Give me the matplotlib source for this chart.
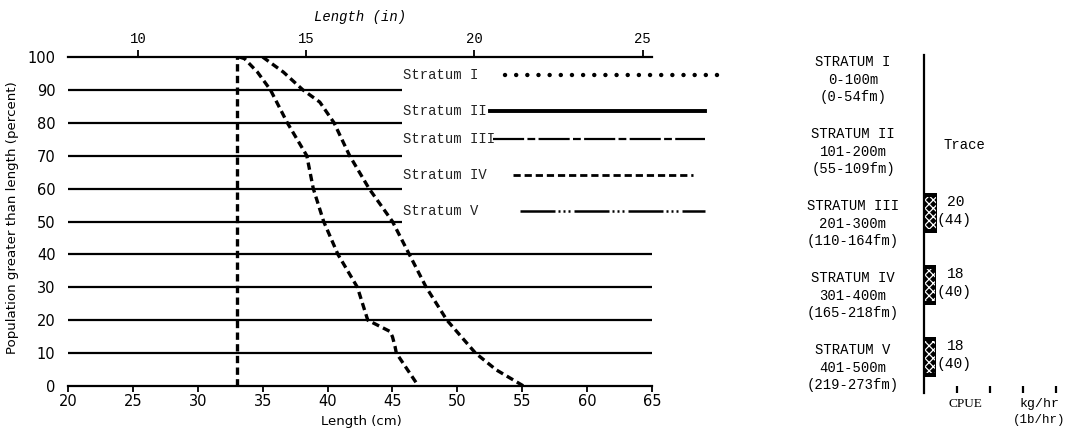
import matplotlib
matplotlib.use("Agg")
import matplotlib.pyplot as plt
from matplotlib.lines import Line2D
import matplotlib.transforms as mtransforms

# ---------------- data ----------------
x_ticks_cm = [20, 25, 30, 35, 40, 45, 50, 55, 60, 65]
y_ticks_pct = [0, 10, 20, 30, 40, 50, 60, 70, 80, 90, 100]
top_ticks_in = [10, 15, 20, 25]

grid_short_pct = [50, 60, 70, 80, 90]
grid_long_pct = [10, 20, 30, 40]

vert_cm = [33.0, 33.0]
vert_pct = [0, 100]

curve_a_cm = [33.2, 33.6, 34.6, 35.6, 36.9, 38.4, 38.9, 39.7, 40.8, 42.3, 43.1, 43.8, 44.8, 45.0, 45.2, 45.3, 47.0]
curve_a_pct = [100, 99.5, 95.4, 90, 80, 70, 60, 50, 40, 30, 20, 18.6, 16.6, 15, 12, 10, 0]

curve_b_cm = [35.0, 36.6, 38.1, 39.4, 40.5, 41.7, 43.2, 45.0, 46.3, 47.6, 49.2, 51.4, 53.0, 55.1]
curve_b_pct = [100, 95.4, 90, 86.3, 80, 70, 60, 50, 40, 30, 20, 10, 4.9, 0]

legend_labels = ["Stratum I", "Stratum II", "Stratum III", "Stratum IV", "Stratum V"]

strata_names = ["STRATUM I", "STRATUM II", "STRATUM III", "STRATUM IV", "STRATUM V"]
strata_m = ["0-100m", "101-200m", "201-300m", "301-400m", "401-500m"]
strata_fm = ["(0-54fm)", "(55-109fm)", "(110-164fm)", "(165-218fm)", "(219-273fm)"]
cpue_kg = [0, 0, 20, 18, 18]
cpue_lb = [0, 0, 44, 40, 40]
cpue_note = ["", "Trace", "", "", ""]
cpue_ticks = [50, 100, 150, 200]

# ---------------- figure ----------------
W, H = 1069, 434
fig = plt.figure(figsize=(W / 100, H / 100), dpi=100)


def fx(px):
    return px / W


def fy(py):
    return 1 - py / H


MONO = "Liberation Mono"
SANS = "DejaVu Sans"

ax = fig.add_axes([fx(68), fy(386), (652 - 68) / W, (386 - 57) / H])
ax.set_xlim(20, 65)
ax.set_ylim(0, 100)

ax.hlines(grid_short_pct, 20, 45.7, color="black", lw=1.6, zorder=1)
ax.hlines(grid_long_pct, 20, 65, color="black", lw=1.6, zorder=1)

dash = (0, (2.2, 1.3))
ax.plot(vert_cm, vert_pct, color="black", lw=2.4, linestyle=dash, zorder=3)
ax.plot(curve_a_cm, curve_a_pct, color="black", lw=2.4, linestyle=dash, zorder=3)
ax.plot(curve_b_cm, curve_b_pct, color="black", lw=2.4, linestyle=dash, zorder=3)

for s in ["left", "right", "top"]:
    ax.spines[s].set_visible(False)
ax.spines["bottom"].set_linewidth(1.6)

ax.set_xticks(x_ticks_cm)
ax.set_yticks(y_ticks_pct)
ax.tick_params(axis="x", direction="out", length=4, width=1.3, pad=2, labelsize=10.5)
ax.tick_params(axis="y", length=0, pad=9, labelsize=10.5)
for lab in ax.get_xticklabels() + ax.get_yticklabels():
    lab.set_family(SANS)

# top inch axis (scale as printed on the original)
def cm2in(c):
    return 10 + (c - 25.4) / 2.592


def in2cm(i):
    return 25.4 + (i - 10) * 2.592


secax = ax.secondary_xaxis("top", functions=(cm2in, in2cm))
secax.set_xticks(top_ticks_in)
secax.tick_params(direction="out", length=5, width=1.3, pad=3, labelsize=10)
for lab in secax.get_xticklabels():
    lab.set_family(MONO)
secax.spines["top"].set_linewidth(1.6)

fig.text(fx(360), fy(17), "Length (in)", family=MONO, style="italic", size=10,
         ha="center", va="center")
fig.text(fx(361), fy(422), "Length (cm)", family=SANS, size=9.5, ha="center", va="center")
fig.text(fx(13), fy(218), "Population greater than length (percent)", family=SANS,
         size=9.6, rotation=90, ha="center", va="center")

# ---------------- legend ----------------
leg_y = [75, 111, 139, 175, 211]
leg_x0 = [505, 490, 493, 513, 520]
leg_x1 = [728, 705, 705, 693, 705]
leg_styles = [
    dict(lw=3.2, linestyle=(0, (0.01, 2.5)), dash_capstyle="round"),
    dict(lw=2.8, linestyle="-"),
    dict(lw=1.6, linestyle=(0, (14, 1.5, 3.5, 1.5))),
    dict(lw=2.0, linestyle=(0, (2.6, 1.4))),
    dict(lw=1.8, linestyle=(0, (14, 1.2, 0.8, 1.2, 0.8, 1.2, 0.8, 1.6))),
]
for lab, y, x0, x1, st in zip(legend_labels, leg_y, leg_x0, leg_x1, leg_styles):
    fig.text(fx(403), fy(y), lab, family=MONO, size=10, color="#222222",
             ha="left", va="center")
    fig.add_artist(Line2D([fx(x0), fx(x1)], [fy(y), fy(y)], transform=fig.transFigure,
                          color="black", **st))

# ---------------- right panel ----------------
ax2 = fig.add_axes([fx(924), fy(393), (W - 924) / W, (393 - 55) / H])
ax2.set_xlim(0, 220)
ax2.set_ylim(4.347, -0.347)
for s in ["right", "top", "bottom"]:
    ax2.spines[s].set_visible(False)
ax2.spines["left"].set_linewidth(1.6)
ax2.set_yticks([])
ax2.set_xticks(cpue_ticks)
ax2.tick_params(axis="x", direction="in", length=5, width=1.6, labelbottom=False)

rows = list(range(len(strata_names)))
bar_rows = [r - 0.15 for r in rows]
ax2.barh(bar_rows, cpue_kg, height=0.55, color="black", lw=0)
plt.rcParams["hatch.linewidth"] = 0.9
ax2.barh(bar_rows, [max(v - 3, 0) for v in cpue_kg], left=1.5, height=0.45,
         fill=False, hatch="xxxx", edgecolor="white", lw=0)

tr = mtransforms.blended_transform_factory(fig.transFigure, ax2.transData)
for r, n, m, f in zip(rows, strata_names, strata_m, strata_fm):
    ax2.text(fx(853), r - 0.245, n, transform=tr, family=MONO, size=10,
             ha="center", va="center", clip_on=False)
    ax2.text(fx(853), r, m, transform=tr, family=MONO, size=10,
             ha="center", va="center", clip_on=False)
    ax2.text(fx(853), r + 0.24, f, transform=tr, family=MONO, size=10,
             ha="center", va="center", clip_on=False)

for r, kg, lb, note in zip(rows, cpue_kg, cpue_lb, cpue_note):
    if kg > 0:
        ax2.text(35, r - 0.31, f"{kg}", family=MONO, size=10.5, ha="left", va="center")
        ax2.text(19, r - 0.05, f"({lb})", family=MONO, size=10.5, ha="left", va="center")
    if note:
        ax2.text(29, r - 0.1, note, family=MONO, size=10, ha="left", va="center")

ax2.text(63.6, 4.5, "CPUE", family="Liberation Serif", size=9.5, ha="center",
         va="center", clip_on=False)
ax2.text(175, 4.5, "kg/hr", family=MONO, size=9.5, ha="center", va="center", clip_on=False)
ax2.text(175, 4.72, "(1b/hr)", family=MONO, size=9, ha="center", va="center", clip_on=False)

fig.savefig("out.png", dpi=100)
